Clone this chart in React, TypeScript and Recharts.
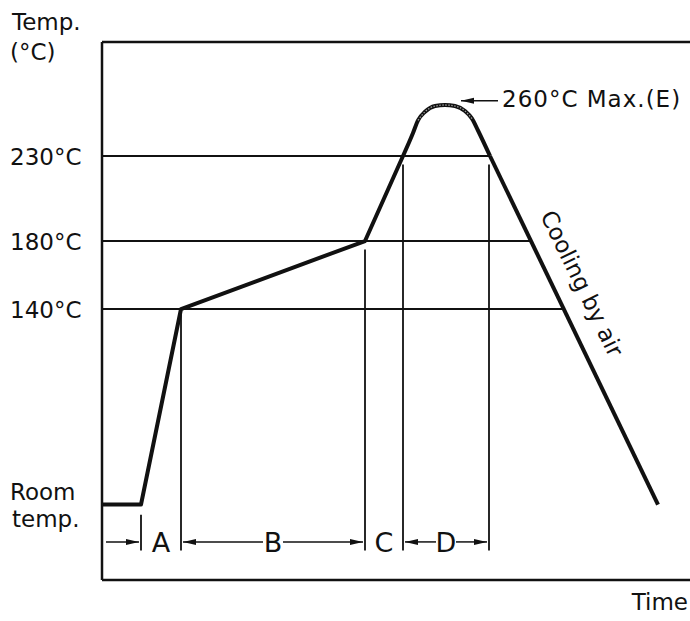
import React from "react";
import { LineChart, Line, XAxis, YAxis, ReferenceLine, ReferenceDot } from "recharts";

// ---- data (time in arbitrary units, temperature in °C) ----
const riseTime = [0, 39, 79, 263, 301];
const riseTemp = [25, 25, 140, 180, 230];
const peakTime = [301, 311, 316, 323, 333, 343, 353, 363, 370, 376, 388];
const peakTemp = [230, 243.5, 251, 256, 259.4, 260, 259.4, 256.5, 252, 245, 230];
const coolTime = [388, 556];
const coolTemp = [230, 25];

const tempTicks = [25, 140, 180, 230];
const tempTickLabels = ["Room temp.", "140°C", "180°C", "230°C"];
const gridTemps = [140, 180, 230];

const zoneBounds = [39, 79, 263, 301, 387];
const zoneLabels = ["A", "B", "C", "D"];
const zoneLineTops = [19, 140, 175, 225, 225];

const peakLabel = "260°C Max.(E)";
const coolingLabel = "Cooling by air";
const yTitle = ["Temp.", "(°C)"];
const xTitle = "Time";

// ---- scales / layout ----
const X_MIN = 0;
const X_MAX = 588;
const Y_MIN = -19.4;
const Y_MAX = 297.06;
const DIM_T = 3; // dimension row
const DIM_BOTTOM = -2;
const INK = "#111";
const FONT = "'DejaVu Sans', sans-serif";

const toData = (ts: number[], vs: number[]) => ts.map((t, i) => ({ t, temp: vs[i] }));
const riseData = toData(riseTime, riseTemp);
const peakData = toData(peakTime, peakTemp);
const peakTopData = peakData.slice(2, 9);
const coolData = toData(coolTime, coolTemp);

// x of the cooling line at a given temperature
const coolX = (temp: number) => {
  for (let i = 0; i < coolTime.length - 1; i++) {
    const a = coolTemp[i], b = coolTemp[i + 1];
    if (temp <= a && temp >= b) {
      const f = (a - temp) / (a - b);
      return coolTime[i] + f * (coolTime[i + 1] - coolTime[i]);
    }
  }
  return coolTime[coolTime.length - 1];
};

const YTick = (props: any) => {
  const { y, payload } = props;
  const idx = tempTicks.indexOf(payload.value);
  const label = tempTickLabels[idx] || "";
  if (payload.value === 25) {
    const [a, b] = label.split(" ");
    return (
      <g>
        <text x={10} y={y - 5} fontFamily={FONT} fontSize={23} fill={INK}>{a}</text>
        <text x={12} y={y + 22} fontFamily={FONT} fontSize={23} fill={INK}>{b}</text>
      </g>
    );
  }
  return (
    <text x={10} y={y + 9} fontFamily={FONT} fontSize={23} fill={INK}>{label}</text>
  );
};

const arrowHead = (dir: number) => (p: any) => {
  const { cx, cy } = p;
  const L = 13, H = 3;
  return (
    <polygon
      points={`${cx},${cy} ${cx - dir * L},${cy - H} ${cx - dir * L},${cy + H}`}
      fill={INK}
    />
  );
};

const textShape = (txt: string, dx: number, dy: number, size: number, anchor: string, rotate = 0, spacing = 0) => (p: any) => {
  const { cx, cy } = p;
  const x = cx + dx, y = cy + dy;
  return (
    <text
      x={x}
      y={y}
      fontFamily={FONT}
      fontSize={size}
      fill={INK}
      letterSpacing={spacing || undefined}
      textAnchor={anchor as any}
      dominantBaseline={rotate ? "central" : undefined}
      transform={rotate ? `rotate(${rotate}, ${x}, ${y})` : undefined}
    >
      {txt}
    </text>
  );
};

export default function App() {
  const dims: React.ReactNode[] = [];
  zoneBounds.forEach((b, i) => {
    dims.push(
      <ReferenceLine
        key={`zv${i}`}
        segment={[{ x: b, y: zoneLineTops[i] }, { x: b, y: DIM_BOTTOM }]}
        stroke={INK}
        strokeWidth={1.8}
        ifOverflow="visible"
      />
    );
  });
  zoneLabels.forEach((lab, i) => {
    const c = (zoneBounds[i] + zoneBounds[i + 1]) / 2;
    dims.push(
      <ReferenceDot key={`zl${i}`} x={c} y={DIM_T} r={0} ifOverflow="visible" shape={textShape(lab, 0, 10, 27, "middle")} />
    );
  });
  dims.push(
    <ReferenceLine key="aShaft" segment={[{ x: 4, y: DIM_T }, { x: zoneBounds[0] - 2, y: DIM_T }]} stroke={INK} strokeWidth={1.5} ifOverflow="visible" />,
    <ReferenceDot key="aHead" x={zoneBounds[0] - 2} y={DIM_T} r={0} ifOverflow="visible" shape={arrowHead(1)} />
  );
  [1, 3].forEach((i) => {
    const l = zoneBounds[i] + 2;
    const r = zoneBounds[i + 1] - 2;
    const c = (zoneBounds[i] + zoneBounds[i + 1]) / 2;
    dims.push(
      <ReferenceLine key={`s1${i}`} segment={[{ x: l, y: DIM_T }, { x: c - 10, y: DIM_T }]} stroke={INK} strokeWidth={1.5} ifOverflow="visible" />,
      <ReferenceLine key={`s2${i}`} segment={[{ x: c + 10, y: DIM_T }, { x: r, y: DIM_T }]} stroke={INK} strokeWidth={1.5} ifOverflow="visible" />,
      <ReferenceDot key={`h1${i}`} x={l} y={DIM_T} r={0} ifOverflow="visible" shape={arrowHead(-1)} />,
      <ReferenceDot key={`h2${i}`} x={r} y={DIM_T} r={0} ifOverflow="visible" shape={arrowHead(1)} />
    );
  });

  return (
    <div style={{ position: "absolute", left: 0, top: 0, width: 690, height: 621, background: "#fff" }}>
      <LineChart width={690} height={621} margin={{ top: 42, right: 0, bottom: 41, left: 0 }}>
        <XAxis type="number" dataKey="t" domain={[X_MIN, X_MAX]} hide allowDataOverflow />
        <YAxis
          type="number"
          domain={[Y_MIN, Y_MAX]}
          ticks={tempTicks}
          interval={0}
          tick={<YTick />}
          tickLine={false}
          axisLine={{ stroke: INK, strokeWidth: 2.5 }}
          width={102}
          allowDataOverflow
        />
        <ReferenceLine y={Y_MAX} stroke={INK} strokeWidth={2.5} ifOverflow="visible" />
        <ReferenceLine y={Y_MIN} stroke={INK} strokeWidth={2.5} ifOverflow="visible" />
        {gridTemps.map((g) => (
          <ReferenceLine
            key={`g${g}`}
            segment={[{ x: X_MIN, y: g }, { x: coolX(g), y: g }]}
            stroke={INK}
            strokeWidth={1.8}
            ifOverflow="visible"
          />
        ))}
        {dims}
        <ReferenceLine segment={[{ x: 359, y: 262.5 }, { x: 396, y: 262.5 }]} stroke={INK} strokeWidth={1.5} ifOverflow="visible" />
        <ReferenceDot x={359} y={262.5} r={0} ifOverflow="visible" shape={arrowHead(-1)} />
        <ReferenceDot x={400} y={262.5} r={0} ifOverflow="visible" shape={textShape(peakLabel, 0, 6, 23, "start", 0, 1)} />
        <ReferenceDot x={480} y={155} r={0} ifOverflow="visible" shape={textShape(coolingLabel, 0, 0, 23, "middle", 64)} />
        <ReferenceDot x={X_MIN} y={Y_MAX} r={0} ifOverflow="visible" shape={textShape(yTitle[0], -90, -12, 23, "start")} />
        <ReferenceDot x={X_MIN} y={Y_MAX} r={0} ifOverflow="visible" shape={textShape(yTitle[1], -92, 18, 23, "start")} />
        <ReferenceDot x={X_MAX} y={Y_MIN} r={0} ifOverflow="visible" shape={textShape(xTitle, -2, 30, 23, "end")} />
        <Line data={riseData} dataKey="temp" type="linear" stroke={INK} strokeWidth={4} dot={false} strokeLinejoin="round" isAnimationActive={false} />
        <Line data={peakData} dataKey="temp" type="monotone" stroke={INK} strokeWidth={4} dot={false} strokeLinejoin="round" isAnimationActive={false} />
        <Line data={peakTopData} dataKey="temp" type="monotone" stroke="#9a9a9a" strokeWidth={1.3} strokeDasharray="1.5 1.5" dot={false} isAnimationActive={false} />
        <Line data={coolData} dataKey="temp" type="linear" stroke={INK} strokeWidth={4} dot={false} strokeLinejoin="round" isAnimationActive={false} />
      </LineChart>
    </div>
  );
}
